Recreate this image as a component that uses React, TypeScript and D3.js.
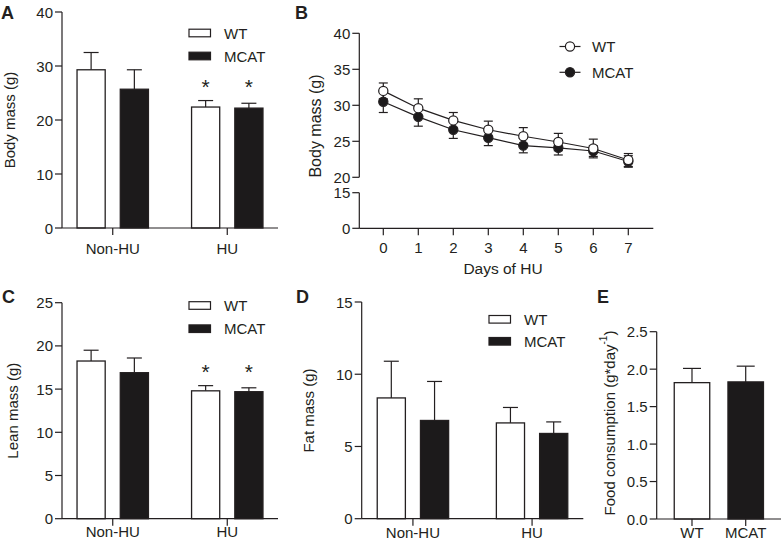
import React from 'react';
import * as d3 from 'd3';

const FONT = "'Liberation Sans', Arial, Helvetica, sans-serif";
const INK = '#231f20';
const DARK = '#1c1a1b';

const groups = ['WT', 'MCAT'];
const conditions = ['Non-HU', 'HU'];

// Panel A: body mass (g)
const bodyWT = [29.3, 22.4];
const bodyWTErr = [3.2, 1.2];
const bodyMCAT = [25.7, 22.2];
const bodyMCATErr = [3.6, 0.9];
const bodyTicks = [0, 10, 20, 30, 40];

// Panel B: body mass over days of HU
const days = [0, 1, 2, 3, 4, 5, 6, 7];
const dayWT = [32.0, 29.6, 27.9, 26.6, 25.7, 24.9, 24.0, 22.4];
const dayWTErr = [1.1, 1.3, 1.1, 1.2, 1.2, 1.2, 1.3, 0.9];
const dayMCAT = [30.5, 28.4, 26.6, 25.5, 24.4, 24.1, 23.65, 22.2];
const dayMCATErr = [1.5, 1.3, 1.2, 1.1, 1.0, 1.0, 0.75, 0.8];
const dayUpperTicks = [20, 25, 30, 35, 40];
const dayLowerTicks = [0, 15];

// Panel C: lean mass (g)
const leanWT = [18.25, 14.8];
const leanWTErr = [1.25, 0.6];
const leanMCAT = [16.9, 14.7];
const leanMCATErr = [1.7, 0.45];
const leanTicks = [0, 5, 10, 15, 20, 25];

// Panel D: fat mass (g)
const fatWT = [8.36, 6.63];
const fatWTErr = [2.54, 1.07];
const fatMCAT = [6.8, 5.9];
const fatMCATErr = [2.7, 0.8];
const fatTicks = [0, 5, 10, 15];

// Panel E: food consumption
const foodMean = [1.82, 1.83];
const foodErr = [0.19, 0.21];
const foodTicks = [0, 0.5, 1.0, 1.5, 2.0, 2.5];

const txt = { fontFamily: FONT, fill: INK } as const;

function YTitle({ x, y, children, size = 15 }: any) {
  return (
    <text transform={`translate(${x},${y}) rotate(-90)`} textAnchor="middle" dominantBaseline="central" fontSize={size} style={txt}>
      {children}
    </text>
  );
}

function YAxis({ x, scale, ticks, fmt, size = 15 }: any) {
  return (
    <g>
      {ticks.map((t: number) => (
        <g key={t}>
          <line x1={x - 7} x2={x} y1={scale(t)} y2={scale(t)} stroke={INK} strokeWidth={1.2} />
          <text x={x - 9} y={scale(t)} textAnchor="end" dominantBaseline="central" fontSize={size} style={txt}>
            {fmt ? fmt(t) : t}
          </text>
        </g>
      ))}
    </g>
  );
}

function Legend({ x, y1, y2, size = 15 }: any) {
  return (
    <g>
      <rect x={x} y={y1 - 3.8} width={21.5} height={7.6} fill="#fff" stroke={INK} strokeWidth={1.2} />
      <text x={x + 35} y={y1} dominantBaseline="central" fontSize={size} style={txt}>WT</text>
      <rect x={x} y={y2 - 3.8} width={21.5} height={7.6} fill={DARK} stroke={INK} strokeWidth={1.2} />
      <text x={x + 35} y={y2} dominantBaseline="central" fontSize={size} style={txt}>MCAT</text>
    </g>
  );
}

function GroupedBars(props: any) {
  const { x0, x1, yTop, yBot, yMax, ticks, padding, wt, wtErr, mcat, mcatErr, catY, stars, starY } = props;
  const x = d3.scalePoint<string>().domain(conditions).range([x0, x1]).padding(padding);
  const inner = d3.scaleBand<string>().domain(groups).range([-35.7, 35.7]).paddingInner(0.349);
  const y = d3.scaleLinear().domain([0, yMax]).range([yBot, yTop]);
  const series = [
    { g: 'WT', vals: wt, errs: wtErr, fill: '#fff' },
    { g: 'MCAT', vals: mcat, errs: mcatErr, fill: DARK },
  ];
  const bw = inner.bandwidth();
  return (
    <g>
      {series.map((s) =>
        conditions.map((c, i) => {
          const left = (x(c) as number) + (inner(s.g) as number);
          const cx = left + bw / 2;
          const top = y(s.vals[i]);
          const et = y(s.vals[i] + s.errs[i]);
          return (
            <g key={s.g + c}>
              <line x1={cx} x2={cx} y1={top} y2={et} stroke={INK} strokeWidth={1.2} />
              <line x1={cx - 7.5} x2={cx + 7.5} y1={et} y2={et} stroke={INK} strokeWidth={1.2} />
              <rect x={left} y={top} width={bw} height={yBot - top} fill={s.fill} stroke={INK} strokeWidth={1.3} />
              {stars && c === 'HU' ? (
                <text x={cx} y={starY} textAnchor="middle" fontSize={21} style={txt}>*</text>
              ) : null}
            </g>
          );
        })
      )}
      <line x1={x0} x2={x0} y1={yTop} y2={yBot} stroke={INK} strokeWidth={1.2} />
      <line x1={x0} x2={x1} y1={yBot} y2={yBot} stroke={INK} strokeWidth={1.2} />
      <YAxis x={x0} scale={y} ticks={ticks} />
      {conditions.map((c) => (
        <g key={c}>
          <line x1={x(c) as number} x2={x(c) as number} y1={yBot} y2={yBot + 7} stroke={INK} strokeWidth={1.2} />
          <text x={x(c) as number} y={catY} textAnchor="middle" fontSize={15} style={txt}>{c}</text>
        </g>
      ))}
    </g>
  );
}

function PanelB() {
  const x0 = 359.3;
  const xEnd = 653.3;
  const x = d3.scaleLinear().domain([0, 7]).range([383.3, 628.3]);
  const yU = d3.scaleLinear().domain([20, 40]).range([177.3, 33.3]);
  const yL = d3.scaleLinear().domain([0, 15]).range([228.3, 192.7]);
  const series = [
    { name: 'MCAT', vals: dayMCAT, errs: dayMCATErr, fill: DARK },
    { name: 'WT', vals: dayWT, errs: dayWTErr, fill: '#fff' },
  ];
  const line = d3.line<number>().x((_, i) => x(days[i])).y((v) => yU(v));
  return (
    <g>
      <text x={295} y={19} fontSize={18} fontWeight="bold" style={txt}>B</text>
      <line x1={x0} x2={x0} y1={33.3} y2={177.3} stroke={INK} strokeWidth={1.2} />
      <line x1={x0} x2={x0} y1={192.7} y2={228.3} stroke={INK} strokeWidth={1.2} />
      <line x1={x0} x2={xEnd} y1={228.3} y2={228.3} stroke={INK} strokeWidth={1.2} />
      <YAxis x={x0} scale={yU} ticks={dayUpperTicks} />
      <YAxis x={x0} scale={yL} ticks={dayLowerTicks} />
      {days.map((d) => (
        <g key={d}>
          <line x1={x(d)} x2={x(d)} y1={228.3} y2={235.3} stroke={INK} strokeWidth={1.2} />
          <text x={x(d)} y={253} textAnchor="middle" fontSize={15} style={txt}>{d}</text>
        </g>
      ))}
      <text x={503} y={274} textAnchor="middle" fontSize={15.5} style={txt}>Days of HU</text>
      <YTitle x={315.5} y={126} size={16}>Body mass (g)</YTitle>
      {series.map((s) => (
        <path key={s.name + 'l'} d={line(s.vals) as string} fill="none" stroke={INK} strokeWidth={1.2} />
      ))}
      {series.map((s) => (
        <g key={s.name}>
          {s.vals.map((v, i) => {
            const cx = x(days[i]);
            const t = yU(v + s.errs[i]);
            const b = yU(v - s.errs[i]);
            return (
              <g key={i}>
                <line x1={cx} x2={cx} y1={t} y2={b} stroke={INK} strokeWidth={1.2} />
                <line x1={cx - 4.5} x2={cx + 4.5} y1={t} y2={t} stroke={INK} strokeWidth={1.2} />
                <line x1={cx - 4.5} x2={cx + 4.5} y1={b} y2={b} stroke={INK} strokeWidth={1.2} />
              </g>
            );
          })}
        </g>
      ))}
      {series.map((s) => (
        <g key={s.name + 'm'}>
          {s.vals.map((v, i) => (
            <circle key={i} cx={x(days[i])} cy={yU(v)} r={4.6} fill={s.fill} stroke={INK} strokeWidth={1.2} />
          ))}
        </g>
      ))}
      {[
        { name: 'WT', y: 46.5, fill: '#fff' },
        { name: 'MCAT', y: 72.3, fill: DARK },
      ].map((l) => (
        <g key={l.name}>
          <line x1={559.5} x2={580.5} y1={l.y} y2={l.y} stroke={INK} strokeWidth={1.2} />
          <circle cx={570} cy={l.y} r={4.6} fill={l.fill} stroke={INK} strokeWidth={1.2} />
          <text x={592} y={l.y} dominantBaseline="central" fontSize={15} style={txt}>{l.name}</text>
        </g>
      ))}
    </g>
  );
}

function PanelE() {
  const x0 = 656.7;
  const yTop = 331.7;
  const yBot = 519;
  const x = d3.scalePoint<string>().domain(groups).range([x0, 781]).padding(0.657);
  const y = d3.scaleLinear().domain([0, 2.5]).range([yBot, yTop]);
  const bw = 35.5;
  const fills = ['#fff', DARK];
  return (
    <g>
      <text x={597} y={303} fontSize={18} fontWeight="bold" style={txt}>E</text>
      {groups.map((g, i) => {
        const cx = x(g) as number;
        const top = y(foodMean[i]);
        const et = y(foodMean[i] + foodErr[i]);
        return (
          <g key={g}>
            <line x1={cx} x2={cx} y1={top} y2={et} stroke={INK} strokeWidth={1.2} />
            <line x1={cx - 9} x2={cx + 9} y1={et} y2={et} stroke={INK} strokeWidth={1.2} />
            <rect x={cx - bw / 2} y={top} width={bw} height={yBot - top} fill={fills[i]} stroke={INK} strokeWidth={1.3} />
            <line x1={cx} x2={cx} y1={yBot} y2={yBot + 7} stroke={INK} strokeWidth={1.2} />
            <text x={cx} y={538} textAnchor="middle" fontSize={15} style={txt}>{g}</text>
          </g>
        );
      })}
      <line x1={x0} x2={x0} y1={yTop} y2={yBot} stroke={INK} strokeWidth={1.2} />
      <line x1={x0} x2={781} y1={yBot} y2={yBot} stroke={INK} strokeWidth={1.2} />
      <YAxis x={x0} scale={y} ticks={foodTicks} fmt={(t: number) => d3.format('.1f')(t)} />
      <text transform={`translate(609,423) rotate(-90)`} textAnchor="middle" dominantBaseline="central" fontSize={15} style={txt}>
        Food consumption (g*day
        <tspan dy={-6} fontSize={10}>-1</tspan>
        <tspan dy={6}>)</tspan>
      </text>
    </g>
  );
}

export default function App() {
  return (
    <svg width={782} height={548} viewBox="0 0 782 548" style={{ position: 'absolute', left: 0, top: 0, background: '#fff' }}>
      <rect width={782} height={548} fill="#fff" />
      {/* Panel A */}
      <text x={1} y={19} fontSize={18} fontWeight="bold" style={txt}>A</text>
      <GroupedBars x0={62} x1={278} yTop={12} yBot={228} yMax={40} ticks={bodyTicks} padding={0.443}
        wt={bodyWT} wtErr={bodyWTErr} mcat={bodyMCAT} mcatErr={bodyMCATErr} catY={254} stars starY={94} />
      <Legend x={189} y1={33} y2={56} />
      <YTitle x={9} y={120}>Body mass (g)</YTitle>

      <PanelB />

      {/* Panel C */}
      <text x={2} y={303} fontSize={18} fontWeight="bold" style={txt}>C</text>
      <GroupedBars x0={62} x1={278} yTop={302.7} yBot={518.7} yMax={25} ticks={leanTicks} padding={0.443}
        wt={leanWT} wtErr={leanWTErr} mcat={leanMCAT} mcatErr={leanMCATErr} catY={537} stars starY={379} />
      <Legend x={189} y1={305.5} y2={328.7} />
      <YTitle x={12} y={410.7}>Lean mass (g)</YTitle>

      {/* Panel D */}
      <text x={296} y={303} fontSize={18} fontWeight="bold" style={txt}>D</text>
      <GroupedBars x0={361.7} x1={583.3} yTop={302} yBot={518.7} yMax={15} ticks={fatTicks} padding={0.43}
        wt={fatWT} wtErr={fatWTErr} mcat={fatMCAT} mcatErr={fatMCATErr} catY={538} />
      <Legend x={489} y1={319.3} y2={341.3} />
      <YTitle x={308.5} y={410.5}>Fat mass (g)</YTitle>

      <PanelE />
    </svg>
  );
}
